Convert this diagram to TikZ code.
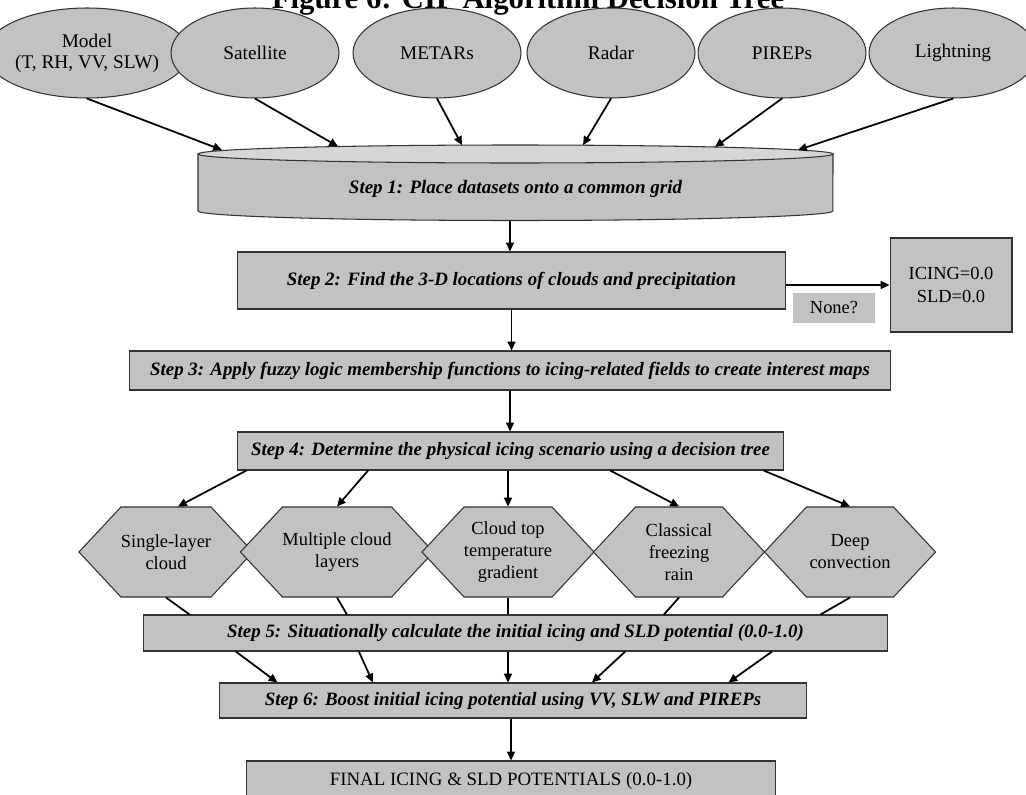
\documentclass[tikz,border=0pt]{standalone}
\usepackage{fontspec}
\setmainfont{Liberation Serif}
\usetikzlibrary{arrows.meta,shapes.geometric,shapes.symbols,calc}
\definecolor{boxgray}{RGB}{194,194,194}
\definecolor{topgray}{RGB}{214,214,214}

\begin{document}
\begin{tikzpicture}[x=0.02cm, y=-0.02cm,
  src/.style={ellipse, draw=black!80, line width=0.6pt, fill=boxgray, minimum width=3.36cm, minimum height=1.8cm, inner sep=0pt, align=center, font=\fontsize{11}{11.8}\selectfont},
  stepbox/.style={draw=black!80, line width=0.6pt, fill=boxgray, inner sep=0pt, font=\fontsize{10.75}{12}\selectfont\bfseries\itshape},
  scen/.style={signal, signal to=east and west, signal pointer angle=94, draw=black!80, line width=0.6pt, fill=boxgray, minimum width=3.42cm, minimum height=1.8cm, inner sep=0pt, align=center, font=\fontsize{10.5}{12.5}\selectfont},
  arr/.style={-{Triangle[length=5pt,width=4.5pt]}, line width=1pt},
  link/.style={line width=1pt}
]
\useasboundingbox (0,0) rectangle (1026,794);

\node[anchor=base, font=\fontsize{17.5}{20}\selectfont\bfseries] (title) at (528,9) {Figure 6: CIP Algorithm Decision Tree};

\node[src] (model) at (87,53) {Model\\(T, RH, VV, SLW)};
\node[src] (sat) at (255,53) {Satellite};
\node[src] (metar) at (437,53) {METARs};
\node[src] (radar) at (611,53) {Radar};
\node[src] (pirep) at (782,53) {PIREPs};
\node[src] (ltg) at (953,53) {Lightning};

\filldraw[draw=black!80, line width=0.6pt, fill=boxgray] (198,154) -- (198,211) arc[start angle=180, end angle=360, x radius=6.35cm, y radius=0.19cm] -- (833,154) -- cycle;
\filldraw[draw=black!80, line width=0.6pt, fill=topgray] (515.5,154) ellipse[x radius=6.35cm, y radius=0.18cm];
\node[font=\fontsize{10.8}{12}\selectfont\bfseries\itshape] (step1) at (515.5,189) {Step 1: Place datasets onto a common grid};

\coordinate (in1) at (222,150);
\coordinate (in2) at (338,146.5);
\coordinate (in3) at (462,145.2);
\coordinate (in4) at (583,145.2);
\coordinate (in5) at (715,147);
\coordinate (in6) at (798,150);
\coordinate (out1) at (510,220.5);

\draw[arr] (model.south) -- (in1);
\draw[arr] (sat.south) -- (in2);
\draw[arr] (metar.south) -- (in3);
\draw[arr] (radar.south) -- (in4);
\draw[arr] (pirep.south) -- (in5);
\draw[arr] (ltg.south) -- (in6);

\node[stepbox, minimum width=10.98cm, minimum height=1.14cm] (step2) at (511.5,280.5) {Step 2: Find the 3-D locations of clouds and precipitation};
\draw[arr] (out1) -- (out1 |- step2.north);

\node[draw=black!80, line width=0.6pt, fill=boxgray, minimum width=2.44cm, minimum height=1.88cm, align=center, font=\fontsize{10.5}{13}\selectfont] (icing) at (951,285) {ICING=0.0\\SLD=0.0};
\node[fill=boxgray, minimum width=1.64cm, minimum height=0.6cm, inner sep=0pt, font=\fontsize{10.5}{12}\selectfont] (none) at (834,308) {None?};
\draw[arr] (step2.east |- icing) -- (icing.west);

\node[stepbox, minimum width=15.24cm, minimum height=0.78cm] (step3) at (510,370.5) {Step 3: Apply fuzzy logic membership functions to icing-related fields to create interest maps};
\draw[arr] (step2.south) -- (step2.south |- step3.north);

\node[stepbox, minimum width=10.94cm, minimum height=0.76cm] (step4) at (510.5,451) {Step 4: Determine the physical icing scenario using a decision tree};
\draw[arr] (step3.south) -- (step3.south |- step4.north);

\node[scen] (single) at (166,552) {Single-layer\\cloud};
\node[scen] (multi) at (337,552) {Multiple cloud\\layers};
\node[scen] (ctop) at (508,552) {Cloud top\\temperature\\gradient};
\node[scen] (frzr) at (679,552) {Classical\\freezing\\rain};
\node[scen] (deep) at (850,552) {Deep\\convection};

\draw[arr] ($(step4.south west)!0.018!(step4.south east)$) -- ($(single.north)+(12,0)$);
\draw[arr] ($(step4.south west)!0.24!(step4.south east)$) -- (multi.north);
\draw[arr] (ctop |- step4.south) -- (ctop.north);
\draw[arr] ($(step4.south west)!0.682!(step4.south east)$) -- (frzr.north);
\draw[arr] ($(step4.south west)!0.962!(step4.south east)$) -- (deep.north);

\node[stepbox, minimum width=14.9cm, minimum height=0.72cm] (step5) at (515.5,633) {Step 5: Situationally calculate the initial icing and SLD potential (0.0-1.0)};

\draw[link] (single.south) -- ($(step5.north west)!0.063!(step5.north east)$);
\draw[link] (multi.south) -- ($(step5.north west)!0.274!(step5.north east)$);
\draw[link] (ctop.south) -- (ctop.south |- step5.north);
\draw[link] (frzr.south) -- ($(step5.north west)!0.699!(step5.north east)$);
\draw[link] (deep.south) -- ($(step5.north west)!0.909!(step5.north east)$);

\node[stepbox, minimum width=11.76cm, minimum height=0.7cm] (step6) at (513,700.5) {Step 6: Boost initial icing potential using VV, SLW and PIREPs};

\draw[arr] ($(step5.south west)!0.125!(step5.south east)$) -- ($(step6.north west)!0.1!(step6.north east)$);
\draw[arr] ($(step5.south west)!0.29!(step5.south east)$) -- ($(step6.north west)!0.262!(step6.north east)$);
\draw[arr] (ctop |- step5.south) -- (ctop |- step6.north);
\draw[arr] ($(step5.south west)!0.647!(step5.south east)$) -- ($(step6.north west)!0.634!(step6.north east)$);
\draw[arr] ($(step5.south west)!0.844!(step5.south east)$) -- ($(step6.north west)!0.866!(step6.north east)$);

\node[draw=black!80, line width=0.6pt, fill=boxgray, minimum width=10.6cm, minimum height=0.8cm, inner sep=0pt, font=\fontsize{10.75}{12}\selectfont] (final) at (511,781) {FINAL ICING \& SLD POTENTIALS (0.0-1.0)};
\draw[arr] (final.north |- step6.south) -- (final.north);

\end{tikzpicture}
\end{document}
